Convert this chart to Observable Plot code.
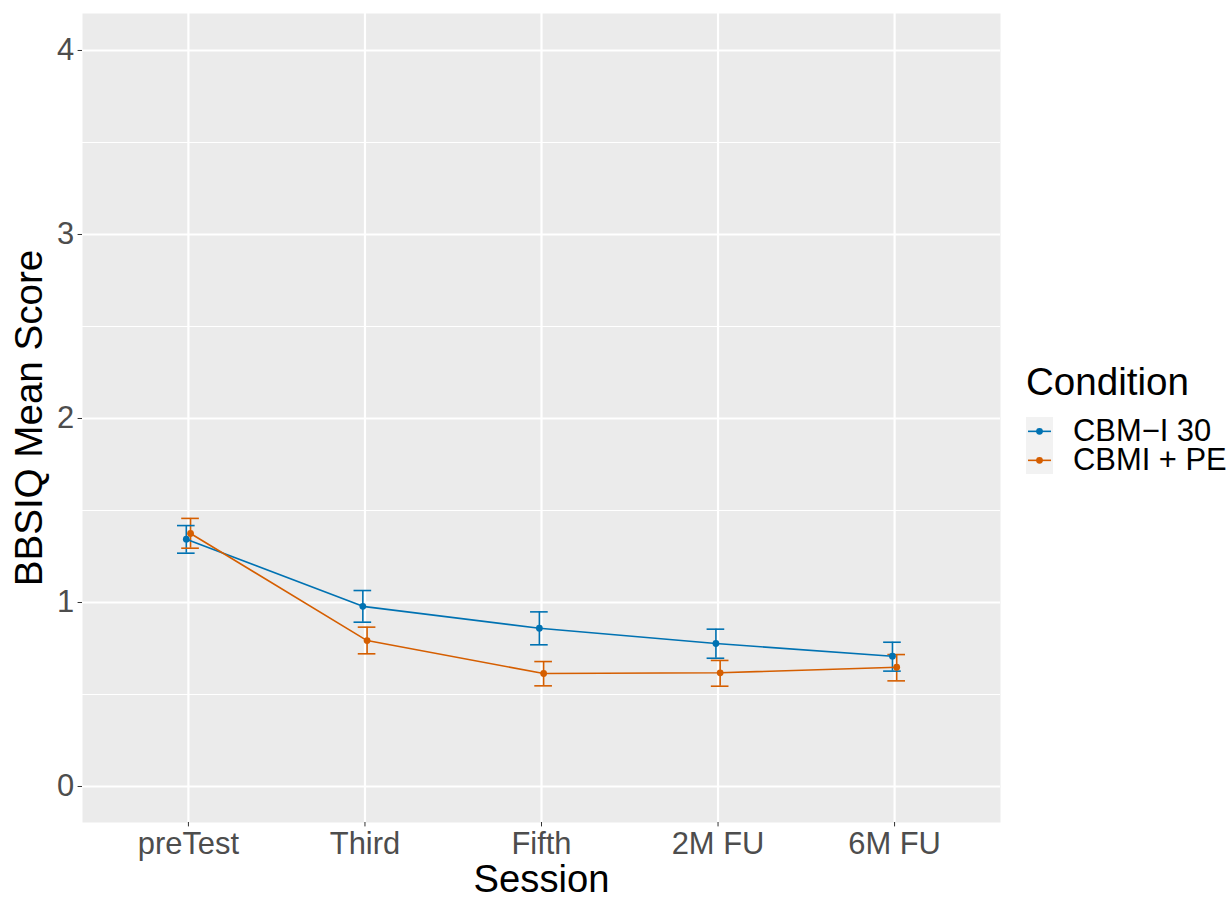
<!DOCTYPE html>
<html>
<head>
<meta charset="utf-8">
<script src="https://cdn.jsdelivr.net/npm/d3@7"></script>
<script src="https://cdn.jsdelivr.net/npm/@observablehq/plot@0.6"></script>
<style>
  html, body { margin: 0; padding: 0; background: #fff; }
  #wrap { position: relative; width: 1232px; height: 898px; font-family: "Liberation Sans", Arial, sans-serif; }
  #legend { position: absolute; left: 1026px; top: 358px; }
  #legend .title { font-size: 38.6px; color: #000; line-height: 48px; height: 56px; white-space: nowrap; }
  #legend .row { display: flex; align-items: center; height: 28.7px; }
  #legend .lab { font-size: 30.9px; line-height: 28px; color: #000; margin-left: 20px; white-space: nowrap; }
</style>
</head>
<body>
<div id="wrap"><div id="chart"></div><div id="legend"></div></div>
<script>
const sessions = ["preTest", "Third", "Fifth", "2M FU", "6M FU"];
const conditions = ["CBM\u2212I 30", "CBMI + PE"];
const colors = ["#0072B2", "#D55E00"];
const yTicks = [0, 1, 2, 3, 4];
const yMinor = [0.5, 1.5, 2.5, 3.5];

const cbmiMean = [1.344, 0.979, 0.860, 0.777, 0.708];
const cbmiLow  = [1.268, 0.893, 0.770, 0.697, 0.627];
const cbmiHigh = [1.418, 1.065, 0.949, 0.855, 0.784];

const pe_Mean = [1.375, 0.793, 0.614, 0.618, 0.648];
const pe_Low  = [1.295, 0.721, 0.547, 0.545, 0.574];
const pe_High = [1.457, 0.866, 0.679, 0.685, 0.717];

const dodge = [-0.012, 0.012];
const series = [[cbmiMean, cbmiLow, cbmiHigh], [pe_Mean, pe_Low, pe_High]];
const rows = [];
series.forEach(([m, lo, hi], c) => {
  sessions.forEach((s, i) => {
    rows.push({cond: conditions[c], x: i + dodge[c], mean: m[i], lo: lo[i], hi: hi[i]});
  });
});

const plot = Plot.plot({
  width: 1010,
  height: 898,
  marginLeft: 82,
  marginRight: 10,
  marginTop: 13,
  marginBottom: 76,
  style: {fontFamily: '"Liberation Sans", Arial, sans-serif', background: "transparent", overflow: "visible"},
  x: {domain: [-0.6, 4.6]},
  y: {domain: [-0.1957, 4.201]},
  color: {domain: conditions, range: colors},
  marks: [
    Plot.frame({fill: "#EBEBEB", stroke: null}),
    Plot.gridY(yMinor, {stroke: "#fff", strokeOpacity: 1, strokeWidth: 1.1}),
    Plot.gridY(yTicks, {stroke: "#fff", strokeOpacity: 1, strokeWidth: 2.2}),
    Plot.gridX(d3.range(sessions.length), {stroke: "#fff", strokeOpacity: 1, strokeWidth: 2.2}),
    Plot.axisY({ticks: yTicks, tickFormat: d => String(d), tickSize: 4.4, tickPadding: 4, fontSize: 30.9, fill: "#4D4D4D", stroke: "#333", label: null}),
    Plot.axisX({ticks: d3.range(sessions.length), tickFormat: i => sessions[i], tickSize: 4.4, tickPadding: 5, fontSize: 30.9, fill: "#4D4D4D", stroke: "#333", label: null}),
    Plot.ruleX(rows, {x: "x", y1: "lo", y2: "hi", stroke: "cond", strokeWidth: 1.6}),
    Plot.ruleY(rows, {y: "lo", x1: d => d.x - 0.05, x2: d => d.x + 0.05, stroke: "cond", strokeWidth: 1.6}),
    Plot.ruleY(rows, {y: "hi", x1: d => d.x - 0.05, x2: d => d.x + 0.05, stroke: "cond", strokeWidth: 1.6}),
    Plot.line(rows, {x: "x", y: "mean", z: "cond", stroke: "cond", strokeWidth: 1.6}),
    Plot.dot(rows, {x: "x", y: "mean", fill: "cond", r: 3.4, stroke: null}),
    Plot.text(["Session"], {text: d => d, frameAnchor: "bottom", textAnchor: "middle", dy: 69, fontSize: 38.2, fill: "#000"}),
    Plot.text(["BBSIQ Mean Score"], {text: d => d, frameAnchor: "left", textAnchor: "middle", dx: -53, rotate: -90, fontSize: 38.6, fill: "#000"})
  ]
});
document.getElementById("chart").appendChild(plot);

const legend = document.getElementById("legend");
let html = '<div class="title">Condition</div><div style="background:#F2F2F2;position:absolute;left:0;top:59px;width:27px;height:57.4px"></div>';
html += '<div style="position:absolute;top:59px;left:0">';
conditions.forEach((c, i) => {
  html += `<div class="row"><svg width="27" height="28.7" style="display:block"><line x1="2" x2="25" y1="14.35" y2="14.35" stroke="${colors[i]}" stroke-width="1.6"/><circle cx="13.5" cy="14.35" r="3.4" fill="${colors[i]}"/></svg><span class="lab">${c}</span></div>`;
});
html += '</div>';
legend.innerHTML = html;
</script>
</body>
</html>
